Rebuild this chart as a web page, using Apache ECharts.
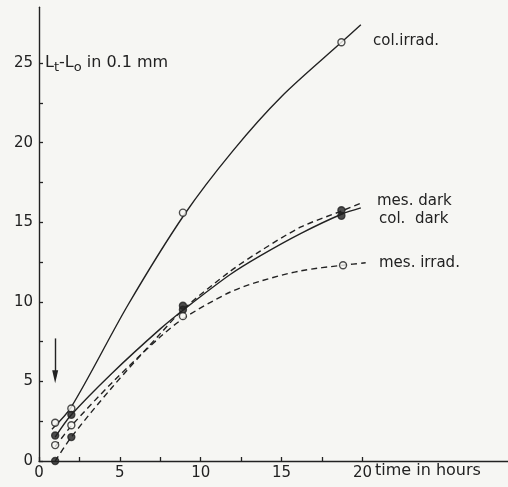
<!DOCTYPE html>
<html>
<head>
<meta charset="utf-8">
<script src="https://cdn.jsdelivr.net/npm/echarts@6/dist/echarts.min.js"></script>
<style>
  html, body { margin: 0; padding: 0; background: #f6f6f3; }
  #chart { width: 508px; height: 487px; }
</style>
</head>
<body>
<div id="chart"></div>
<script>
// Growth L_t - L_0 (0.1 mm) against time (hours)

// axis ticks and labels
const xTicks = [0, 2.5, 5, 7.5, 10, 12.5, 15, 17.5, 20];
const xLabels = [0, 5, 10, 15, 20];
const yTicks = [0, 2.5, 5, 7.5, 10, 12.5, 15, 17.5, 20, 22.5, 25];
const yLabels = [0, 5, 10, 15, 20, 25];

// measured points
const colIrradPts = [[1, 2.4], [2, 3.3], [8.9, 15.6], [18.7, 26.3]];
const colDarkPts  = [[1, 1.6], [2, 2.9], [8.9, 9.5], [18.7, 15.4]];
const mesDarkPts  = [[1, 0.0], [2, 1.5], [8.9, 9.75], [18.7, 15.75]];
const mesIrradPts = [[1, 1.0], [2, 2.25], [8.9, 9.1], [18.8, 12.3]];

// fitted curves
const colIrradCurve = [[0.8, 2.0], [2, 3.4], [5.5, 9.8], [9, 15.5], [12, 19.5], [15, 22.9], [18.7, 26.3], [19.9, 27.4]];
const colDarkCurve  = [[1, 1.5], [2, 2.9], [4.5, 5.5], [7.5, 8.3], [9, 9.55], [11.8, 11.7], [13.7, 12.9], [16.2, 14.3], [18.7, 15.5], [19.9, 15.9]];
const mesDarkCurve  = [[1, 0.0], [2, 1.5], [4.5, 4.6], [7.5, 8.0], [9, 9.6], [11.8, 11.9], [13.7, 13.2], [16.2, 14.7], [18.7, 15.7], [19.9, 16.2]];
const mesIrradCurve = [[1, 0.9], [2, 2.2], [4.5, 4.9], [7.5, 7.8], [9, 9.0], [11.8, 10.6], [13.7, 11.3], [16.2, 11.95], [18.8, 12.3], [20.2, 12.45]];

// arrow marking the start of treatment
const arrowX = 1;
const arrowFrom = 7.7;
const arrowTo = 5.3;

const ink = '#222';
const paper = '#f6f6f3';
const font = 'DejaVu Sans';

function curve(data, dashed) {
  return {
    type: 'line', data: data, smooth: 0.3, showSymbol: false, z: 2,
    lineStyle: { color: ink, width: 1.4, type: dashed ? [6, 4] : 'solid' },
    silent: true
  };
}
function points(data, filled) {
  return {
    type: 'scatter', data: data, symbol: 'circle', symbolSize: 7, z: 5,
    itemStyle: { color: filled ? ink : paper, borderColor: ink, borderWidth: 1.4 },
    silent: true
  };
}
function note(text, left, top) {
  return { type: 'text', left: left, top: top, style: { text: text, fontFamily: font, fontSize: 15, fill: ink } };
}

const chart = echarts.init(document.getElementById('chart'));
chart.setOption({
  backgroundColor: paper,
  animation: false,
  grid: { left: 39, right: 0, top: 7.3, bottom: 26 },
  xAxis: {
    type: 'value', min: 0, max: 29, interval: 2.5,
    axisLine: { show: true, onZero: false, lineStyle: { color: ink, width: 1.4 } },
    axisTick: { show: true, inside: true, length: 4, customValues: xTicks, lineStyle: { color: ink, width: 1.3 } },
    axisLabel: { customValues: xLabels, color: ink, fontFamily: font, fontSize: 15, margin: 5 },
    splitLine: { show: false }
  },
  yAxis: {
    type: 'value', min: 0, max: 28.5, interval: 2.5,
    axisLine: { show: true, onZero: false, lineStyle: { color: ink, width: 1.4 } },
    axisTick: { show: true, inside: true, length: 4, customValues: yTicks, lineStyle: { color: ink, width: 1.3 } },
    axisLabel: { customValues: yLabels, color: ink, fontFamily: font, fontSize: 15, margin: 6 },
    splitLine: { show: false }
  },
  series: [
    curve(colIrradCurve, false),
    curve(colDarkCurve, false),
    curve(mesDarkCurve, true),
    curve(mesIrradCurve, true),
    points(colIrradPts, false),
    points(colDarkPts, true),
    points(mesDarkPts, true),
    points(mesIrradPts, false),
    {
      type: 'line', data: [], silent: true,
      markLine: {
        silent: true, animation: false,
        symbol: ['none', 'triangle'], symbolSize: [6, 13],
        label: { show: false },
        lineStyle: { color: ink, width: 1.4, type: 'solid' },
        data: [[{ coord: [arrowX, arrowFrom] }, { coord: [arrowX, arrowTo] }]]
      }
    }
  ],
  graphic: [
    {
      type: 'text', left: 45, top: 55,
      style: {
        text: '{b|L}{s|t}{b|-L}{s|o}{b| in 0.1 mm}',
        rich: {
          b: { fontFamily: font, fontSize: 16, fill: ink },
          s: { fontFamily: font, fontSize: 13, fill: ink, padding: [9, 0, 0, 0] }
        }
      }
    },
    note('col.irrad.', 373, 34),
    note('mes. dark', 377, 194),
    note('col.  dark', 379, 212),
    note('mes. irrad.', 379, 256),
    { type: 'text', left: 375, top: 463, style: { text: 'time in hours', fontFamily: font, fontSize: 16, fill: ink } }
  ]
});
</script>
</body>
</html>
